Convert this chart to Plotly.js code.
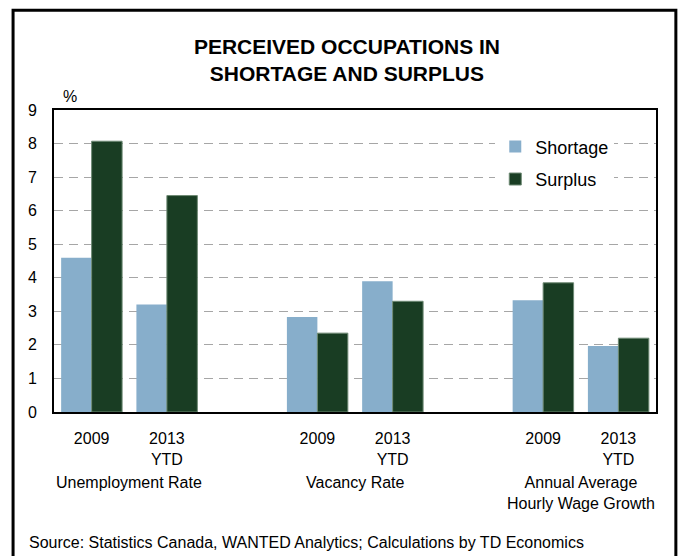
<!DOCTYPE html>
<html>
<head>
<meta charset="utf-8">
<script src="https://cdn.plot.ly/plotly-3.0.1.min.js"></script>
<style>html,body{margin:0;padding:0;background:#fff;}#chart{width:683px;height:556px;}</style>
</head>
<body>
<div id="chart"></div>
<script>
// ---- data ----
const groups = ['Unemployment Rate', 'Vacancy Rate', 'Annual Average<br>Hourly Wage Growth'];
const periods = ['2009', '2013<br>YTD'];
const shortage = [4.6, 3.2, 2.83, 3.9, 3.33, 1.97];
const surplus  = [8.07, 6.45, 2.35, 3.3, 3.85, 2.2];
const seriesNames = ['Shortage', 'Surplus'];
const titleText = 'PERCEIVED OCCUPATIONS IN<br>SHORTAGE AND SURPLUS';
const sourceText = 'Source: Statistics Canada, WANTED Analytics; Calculations by TD Economics';
const yTicks = [0,1,2,3,4,5,6,7,8,9];

// slot positions: each group takes 2 periods + 1 empty spacer slot
const xs = [], ticktext = [];
groups.forEach((g, gi) => periods.forEach((p, pi) => { xs.push(gi * 3 + pi); ticktext.push(p); }));

const font = 'Liberation Sans, Arial, sans-serif';

const traces = [
  {type:'bar', name: seriesNames[0], x: xs, y: shortage, legendgroup:'a',
   marker:{color:'#87AECB', line:{width:0}}},
  {type:'bar', name: seriesNames[1], x: xs, y: surplus, legendgroup:'b',
   marker:{color:'#193D23', line:{width:1, color:'#6E8A74'}}}
];

const annotations = groups.map((g, gi) => ({
  text: g, xref:'x', yref:'paper', x: gi * 3 + 0.5, y: -0.2,
  xanchor:'center', yanchor:'top', showarrow:false, font:{size:16, color:'#000', family:font}
}));
annotations.push({text:'%', xref:'paper', yref:'paper', x: 0.027, y: 1.01, xanchor:'center', yanchor:'bottom',
  showarrow:false, font:{size:16, color:'#000', family:font}});
annotations.push({text: sourceText, xref:'paper', yref:'paper', x: -0.045, y: -0.398, xanchor:'left', yanchor:'top',
  showarrow:false, font:{size:16, color:'#000', family:font}});

const layout = {
  width:683, height:556,
  margin:{l:54, r:27, t:110, b:144},
  paper_bgcolor:'#fff', plot_bgcolor:'#fff',
  font:{family:font, color:'#000'},
  title:{text:titleText, x:0.508, xref:'container', y:0.903, yref:'container', yanchor:'middle', xanchor:'center',
    font:{size:21, family:font, color:'#000', weight:'bold'}},
  barmode:'group', bargap:0.19, bargroupgap:0,
  showlegend:true,
  legend:{x:0.733, y:0.939, xanchor:'left', yanchor:'top', bgcolor:'#fff', borderwidth:0,
    font:{size:18, family:font, color:'#000'}, tracegroupgap:6, traceorder:'grouped'},
  xaxis:{range:[-0.5, 7.5], tickvals: xs, ticktext: ticktext, showgrid:false, zeroline:false,
    showline:true, mirror:true, linecolor:'#000', linewidth:2, ticks:'', ticklabelstandoff:11,
    tickfont:{size:16, family:font, color:'#000'}, fixedrange:true},
  yaxis:{range:[0, 9], tickvals: yTicks, showgrid:true, gridcolor:'#A6A6A6', gridwidth:1, griddash:'9px,6px',
    zeroline:false, showline:true, mirror:true, linecolor:'#000', linewidth:2, ticks:'',
    ticklabelstandoff:12, tickfont:{size:16, family:font, color:'#000'}, fixedrange:true},
  annotations: annotations,
  shapes:[{type:'rect', xref:'paper', yref:'paper', x0:-0.068, x1:1.033, y0:-0.5, y1:1.33,
    line:{color:'#000', width:3}, fillcolor:'rgba(0,0,0,0)', layer:'above'}]
};

Plotly.newPlot('chart', traces, layout, {displayModeBar:false, staticPlot:true});
</script>
</body>
</html>
